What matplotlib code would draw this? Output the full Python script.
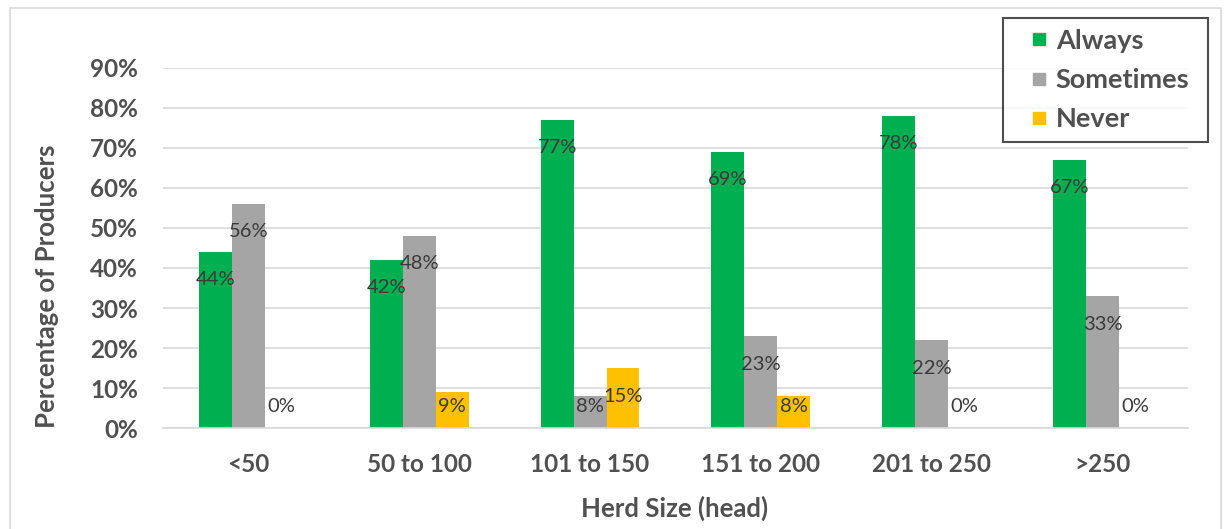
import numpy as np
import matplotlib.pyplot as plt
from matplotlib.patches import Rectangle
from matplotlib.lines import Line2D

# ---------------- data ----------------
categories = ["<50", "50 to 100", "101 to 150", "151 to 200", "201 to 250", ">250"]
always = [44, 42, 77, 69, 78, 67]
sometimes = [56, 48, 8, 23, 22, 33]
never = [0, 9, 15, 8, 0, 0]
series_names = ["Always", "Sometimes", "Never"]

# ---------------- style ----------------
plt.rcParams["font.family"] = ["Lato", "DejaVu Sans"]
TXT = "#505050"
COLORS = ["#00B050", "#A5A5A5", "#FFC000"]
W, H = 1231, 529

fig = plt.figure(figsize=(W / 100, H / 100), dpi=100)
ax = fig.add_axes([0.1324, 0.1909, 0.8326, 0.6806])

x = np.arange(len(categories))
w = 0.193
series = [always, sometimes, never]

for i, (vals, name, col) in enumerate(zip(series, series_names, COLORS)):
    pos = x + (i - 1) * w
    ax.bar(pos, vals, width=w, color=col, label=name, zorder=2)
    # labels sit just inside the bar top (Excel "inside end"), floor for small bars
    for px, v in zip(pos, vals):
        ly = max(v - 7, 5.3)
        ax.text(px, ly, f"{v}%", ha="center", va="center",
                fontsize=14.5, color="#3A3A3A", zorder=3)

ax.set_xlim(-0.5, len(categories) - 0.5)
ax.set_ylim(0, 90)
ax.set_yticks(np.arange(0, 91, 10))
ax.set_yticklabels([f"{t}%" for t in range(0, 91, 10)])
ax.set_xticks(x)
ax.set_xticklabels(categories)

ax.grid(axis="y", color="#D9D9D9", linewidth=1.2, zorder=0)
ax.set_axisbelow(True)
for s in ["top", "right", "left"]:
    ax.spines[s].set_visible(False)
ax.spines["bottom"].set_color("#D9D9D9")
ax.spines["bottom"].set_linewidth(1.2)
ax.tick_params(axis="both", length=0, labelsize=17.5, colors=TXT)
ax.tick_params(axis="y", pad=18)
ax.tick_params(axis="x", pad=18)
for lab in ax.get_xticklabels() + ax.get_yticklabels():
    lab.set_fontweight("bold")

fig.text(675 / W, 1 - 508 / H, "Herd Size (head)", ha="center", va="center",
         fontsize=18.5, fontweight="bold", color=TXT)
fig.text(47 / W, 1 - 286 / H, "Percentage of Producers", ha="center", va="center",
         rotation=90, fontsize=18.5, fontweight="bold", color=TXT)

# legend: small square markers, boxed, top right
handles = [Line2D([], [], marker="s", linestyle="none", markersize=9, color=c)
           for c in COLORS]
leg = fig.legend(handles, series_names, loc="upper left",
                 bbox_to_anchor=(1003 / W, 1 - 140 / H, 205 / W, 122 / H),
                 mode="expand", frameon=True, fancybox=False, fontsize=19.5,
                 handlelength=1.85, handletextpad=-0.3,
                 labelspacing=0.56, borderpad=0.4, borderaxespad=0)
leg.get_frame().set_edgecolor("#202020")
leg.get_frame().set_linewidth(1.5)
for t in leg.get_texts():
    t.set_fontweight("bold")
    t.set_color(TXT)

# light outer frame of the chart area
fig.patches.append(Rectangle((10 / W, -0.01), 1211 / W, 1 - 8 / H + 0.01,
                             transform=fig.transFigure, fill=False,
                             edgecolor="#D9D9D9", linewidth=1.2))

fig.savefig("out.png", dpi=100)
